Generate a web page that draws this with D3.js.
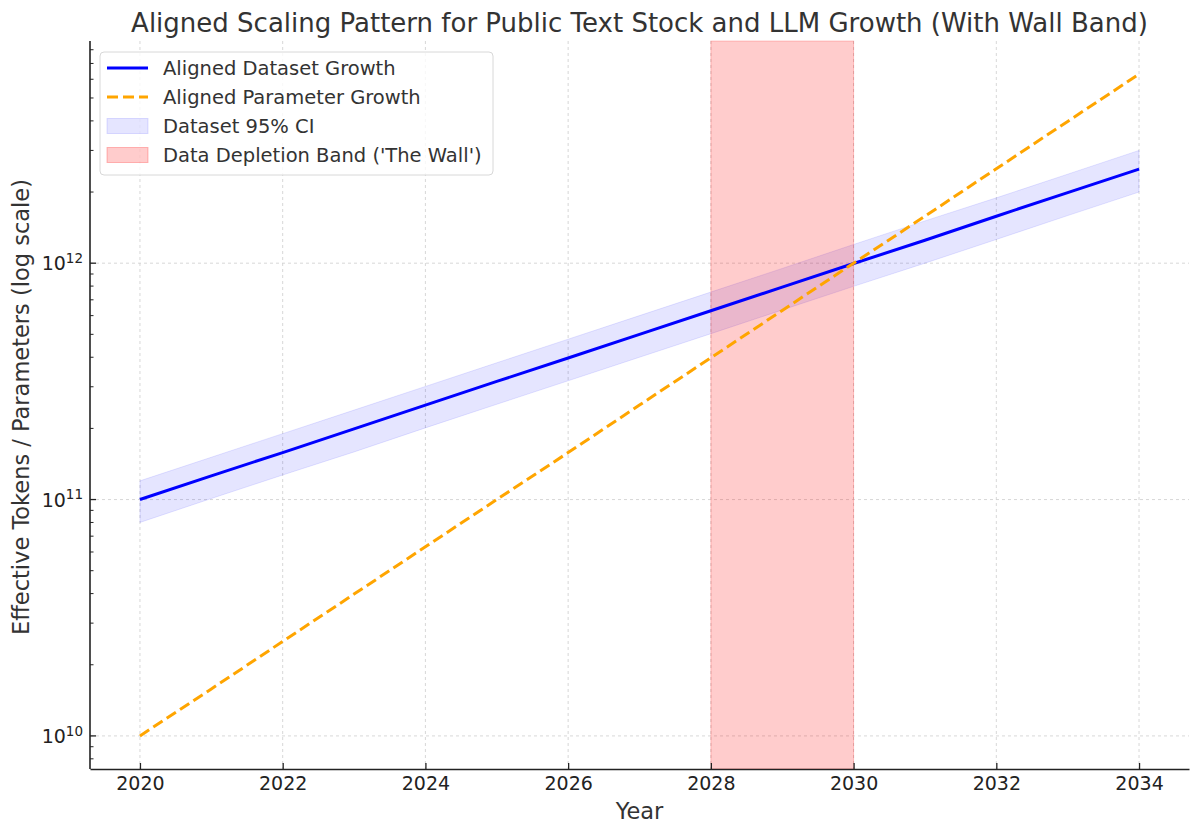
<!DOCTYPE html>
<html>
<head>
<meta charset="utf-8">
<script src="https://cdn.jsdelivr.net/npm/d3@7"></script>
<style>
  body { margin: 0; background: #fff; }
  text { font-family: "DejaVu Sans", sans-serif; }
</style>
</head>
<body>
<div id="chart-container"></div>
<script>
// Data
const years = [2020, 2021, 2022, 2023, 2024, 2025, 2026, 2027, 2028, 2029, 2030, 2031, 2032, 2033, 2034];
const datasetTokens = [1.00e11, 1.26e11, 1.58e11, 1.99e11, 2.51e11, 3.16e11, 3.97e11, 5.00e11,
  6.29e11, 7.92e11, 9.97e11, 1.25e12, 1.58e12, 1.99e12, 2.50e12];
const datasetLower = [0.80e11, 1.01e11, 1.27e11, 1.59e11, 2.01e11, 2.53e11, 3.18e11, 4.00e11,
  5.03e11, 6.34e11, 7.98e11, 1.00e12, 1.26e12, 1.59e12, 2.00e12];
const datasetUpper = [1.20e11, 1.51e11, 1.90e11, 2.39e11, 3.01e11, 3.79e11, 4.77e11, 6.00e11,
  7.55e11, 9.50e11, 1.20e12, 1.51e12, 1.89e12, 2.38e12, 3.00e12];
const paramCounts = [1.00e10, 1.58e10, 2.51e10, 3.98e10, 6.31e10, 1.00e11, 1.58e11, 2.51e11,
  3.98e11, 6.31e11, 1.00e12, 1.58e12, 2.51e12, 3.98e12, 6.31e12];
const wallBand = [2028, 2030];
const xTicks = [2020, 2022, 2024, 2026, 2028, 2030, 2032, 2034];
const yTickExps = [10, 11, 12];
const legendLabels = ["Aligned Dataset Growth", "Aligned Parameter Growth", "Dataset 95% CI", "Data Depletion Band ('The Wall')"];

const W = 1200, H = 835;
const margin = { top: 41, right: 11, bottom: 66, left: 90 };
const width = W - margin.left - margin.right;
const height = H - margin.top - margin.bottom;

const svg = d3.select("#chart-container").append("svg")
  .attr("width", W).attr("height", H);
const g = svg.append("g").attr("transform", `translate(${margin.left},${margin.top})`);

// x scale with matplotlib-like 5% margins
const xPad = (d3.max(years) - d3.min(years)) * 0.05;
const x = d3.scaleLinear()
  .domain([d3.min(years) - xPad, d3.max(years) + xPad])
  .range([0, width]);

const allVals = datasetLower.concat(datasetUpper, paramCounts);
const lMin = Math.log10(d3.min(allVals)), lMax = Math.log10(d3.max(allVals));
const lPad = (lMax - lMin) * 0.05;
const y = d3.scaleLog()
  .domain([Math.pow(10, lMin - lPad), Math.pow(10, lMax + lPad)])
  .range([height, 0]);

// grid
const grid = g.append("g").attr("class", "grid");
grid.selectAll("line.gx").data(xTicks).enter().append("line")
  .attr("x1", d => x(d)).attr("x2", d => x(d)).attr("y1", 0).attr("y2", height)
  .attr("stroke", "#d2d2d2").attr("stroke-width", 0.9).attr("stroke-dasharray", "3,3");
grid.selectAll("line.gy").data(yTickExps).enter().append("line")
  .attr("x1", 0).attr("x2", width).attr("y1", d => y(Math.pow(10, d))).attr("y2", d => y(Math.pow(10, d)))
  .attr("stroke", "#d2d2d2").attr("stroke-width", 0.9).attr("stroke-dasharray", "3,3");

// CI band
const area = d3.area()
  .x((d, i) => x(years[i]))
  .y0((d, i) => y(datasetLower[i]))
  .y1((d, i) => y(datasetUpper[i]));
g.append("path").datum(years).attr("d", area)
  .attr("fill", "rgba(0,0,255,0.1)").attr("stroke", "rgba(0,0,255,0.1)").attr("stroke-width", 1);

// wall band
g.append("rect")
  .attr("x", x(wallBand[0])).attr("width", x(wallBand[1]) - x(wallBand[0]))
  .attr("y", 0).attr("height", height)
  .attr("fill", "rgba(255,0,0,0.2)").attr("stroke", "rgba(255,0,0,0.2)").attr("stroke-width", 1);

// lines
const line = vals => d3.line().x((d, i) => x(years[i])).y(d => y(d))(vals);
g.append("path").attr("d", line(datasetTokens))
  .attr("fill", "none").attr("stroke", "blue").attr("stroke-width", 3);
g.append("path").attr("d", line(paramCounts))
  .attr("fill", "none").attr("stroke", "orange").attr("stroke-width", 3)
  .attr("stroke-dasharray", "11,5");

// axes (ticks pointing inward, only left and bottom spines)
const axisColor = "#222";
const xAxis = g.append("g").attr("transform", `translate(0,${height})`)
  .call(d3.axisBottom(x).tickValues(xTicks).tickFormat(d3.format("d")).tickSizeInner(-6).tickSizeOuter(0).tickPadding(8));
xAxis.select(".domain").attr("stroke", axisColor).attr("stroke-width", 1.6);
xAxis.selectAll(".tick line").attr("stroke", axisColor).attr("stroke-width", 1.3);
xAxis.selectAll(".tick text").attr("fill", axisColor).style("font-size", "19px");

const yAxis = g.append("g");
yAxis.append("line").attr("x1", 0).attr("x2", 0).attr("y1", 0).attr("y2", height)
  .attr("stroke", axisColor).attr("stroke-width", 1.6);

// minor ticks on log axis
const [d0, d1] = y.domain();
const minor = [];
for (let e = Math.floor(Math.log10(d0)); e <= Math.ceil(Math.log10(d1)); e++) {
  for (let m = 2; m <= 9; m++) {
    const v = m * Math.pow(10, e);
    if (v >= d0 && v <= d1) minor.push(v);
  }
}
yAxis.selectAll("line.minor").data(minor).enter().append("line")
  .attr("x1", 0).attr("x2", 3.5).attr("y1", d => y(d)).attr("y2", d => y(d))
  .attr("stroke", axisColor).attr("stroke-width", 1);
const majors = yAxis.selectAll("g.major").data(yTickExps).enter().append("g")
  .attr("transform", d => `translate(0,${y(Math.pow(10, d))})`);
majors.append("line").attr("x1", 0).attr("x2", 6).attr("stroke", axisColor).attr("stroke-width", 1.3);
const lbl = majors.append("text").attr("x", -7).attr("y", 7.3).attr("text-anchor", "end")
  .attr("fill", axisColor).style("font-size", "19px");
lbl.append("tspan").text("10");
lbl.append("tspan").attr("dy", -7.5).style("font-size", "13.5px").text(d => d);

// labels & title
svg.append("text").attr("x", margin.left + width / 2).attr("y", 32)
  .attr("text-anchor", "middle").attr("fill", "#333").style("font-size", "26px")
  .text("Aligned Scaling Pattern for Public Text Stock and LLM Growth (With Wall Band)");
svg.append("text").attr("x", margin.left + width / 2).attr("y", 819)
  .attr("text-anchor", "middle").attr("fill", "#333").style("font-size", "22.5px").text("Year");
svg.append("text").attr("transform", `translate(29,${margin.top + height / 2 + 2}) rotate(-90)`)
  .attr("text-anchor", "middle").attr("fill", "#333").style("font-size", "22.5px")
  .text("Effective Tokens / Parameters (log scale)");

// legend
const legend = g.append("g").attr("transform", "translate(10,11)");
legend.append("rect").attr("width", 393).attr("height", 123).attr("rx", 4)
  .attr("fill", "rgba(255,255,255,0.8)").attr("stroke", "#d8d8d8").attr("stroke-width", 1);
const rows = legend.selectAll("g.row").data(legendLabels).enter().append("g")
  .attr("transform", (d, i) => `translate(0,${16 + i * 29})`);
rows.each(function (d, i) {
  const r = d3.select(this);
  if (i === 0) {
    r.append("line").attr("x1", 7).attr("x2", 48).attr("stroke", "blue").attr("stroke-width", 3);
  } else if (i === 1) {
    r.append("line").attr("x1", 7).attr("x2", 48).attr("stroke", "orange").attr("stroke-width", 3)
      .attr("stroke-dasharray", "11,5");
  } else {
    r.append("rect").attr("x", 7).attr("y", -7.5).attr("width", 41).attr("height", 15)
      .attr("fill", i === 2 ? "rgba(0,0,255,0.1)" : "rgba(255,0,0,0.2)")
      .attr("stroke", i === 2 ? "rgba(0,0,255,0.12)" : "rgba(255,0,0,0.25)");
  }
  r.append("text").attr("x", 63).attr("dy", "0.35em").attr("fill", "#333")
    .style("font-size", "19.5px").text(d);
});
</script>
</body>
</html>
